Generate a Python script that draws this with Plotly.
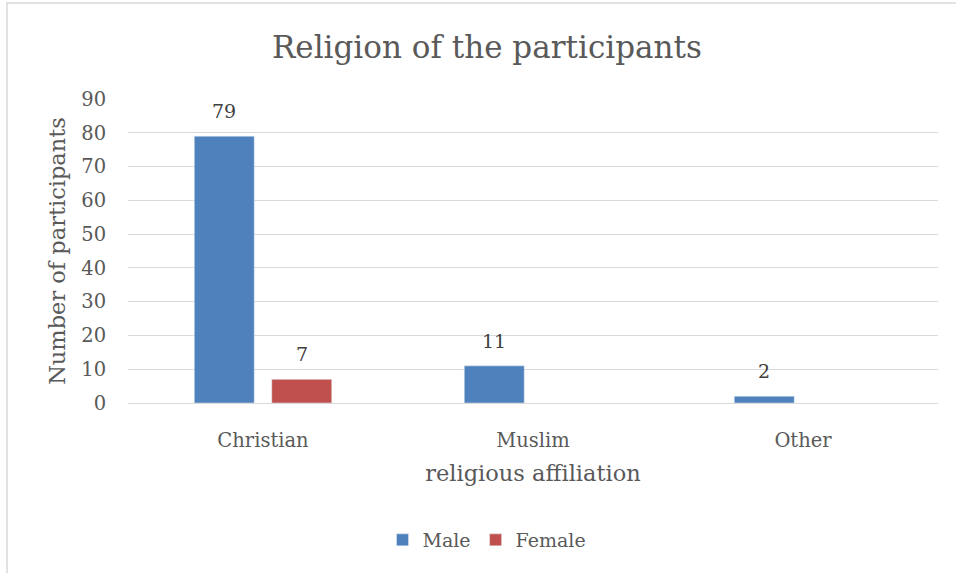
import plotly.graph_objects as go

categories = ["Christian", "Muslim", "Other"]
male = [79, 11, 2]
female = [7, None, None]

FONT = "DejaVu Serif"
GRAY = "#595959"
LABEL = "#404040"

W, H = 956, 573
L, R, T, B = 128, 18, 99, 170
PW, PH = W - L - R, H - T - B

BARGAP = 0.426
GROUPGAP = 0.226


def px_x(px):
    return (px - L) / PW


def px_y(py):
    return (H - B - py) / PH


fig = go.Figure()
fig.add_trace(go.Bar(name="Male", x=categories, y=male, marker_color="#4f81bd"))
fig.add_trace(go.Bar(name="Female", x=categories, y=female, marker_color="#c0504d"))

# value labels above each bar, offset to its slot within the group
slot = (1 - BARGAP) / 2
annotations = []
for series, sign in ((male, -1), (female, 1)):
    for i, v in enumerate(series):
        if v is None:
            continue
        annotations.append(dict(
            x=i + sign * slot / 2, y=v, xref="x", yref="y",
            text=str(v), showarrow=False, yanchor="bottom", yshift=12,
            font=dict(family=FONT, size=19, color=LABEL),
        ))

annotations.append(dict(
    x=px_x(486.5), y=px_y(47), xref="paper", yref="paper",
    text="Religion of the participants", showarrow=False,
    xanchor="center", yanchor="middle",
    font=dict(family=FONT, size=31, color=GRAY),
))

fig.update_layout(
    width=W, height=H,
    margin=dict(l=L, r=R, t=T, b=B),
    paper_bgcolor="white", plot_bgcolor="white",
    barmode="group", bargap=BARGAP, bargroupgap=GROUPGAP,
    font=dict(family=FONT, color=GRAY, size=19),
    annotations=annotations,
    showlegend=True,
    legend=dict(orientation="h", x=px_x(487), xanchor="center",
                y=px_y(540), yanchor="middle",
                font=dict(family=FONT, size=19, color=GRAY),
                itemwidth=30, traceorder="normal"),
    shapes=[dict(type="rect", xref="paper", yref="paper",
                 x0=px_x(7), x1=px_x(975), y0=px_y(3), y1=px_y(590),
                 line=dict(color="#d9d9d9", width=1.5))],
)

fig.update_xaxes(
    type="category", showgrid=False, showline=False, zeroline=False,
    ticks="outside", ticklen=20, tickcolor="rgba(0,0,0,0)",
    tickfont=dict(family=FONT, size=19.5, color=GRAY),
    title=dict(text="religious affiliation", standoff=13,
               font=dict(family=FONT, size=22.5, color=GRAY)),
)
fig.update_yaxes(
    range=[0, 90], dtick=10, showgrid=True, gridcolor="#d9d9d9", gridwidth=1.3,
    zeroline=True, zerolinecolor="#d9d9d9", zerolinewidth=1.3,
    ticks="outside", ticklen=17, tickcolor="rgba(0,0,0,0)",
    tickfont=dict(family=FONT, size=19.5, color=GRAY),
    title=dict(text="Number of participants", standoff=9,
               font=dict(family=FONT, size=22.5, color=GRAY)),
)

fig.write_html("out.html")
